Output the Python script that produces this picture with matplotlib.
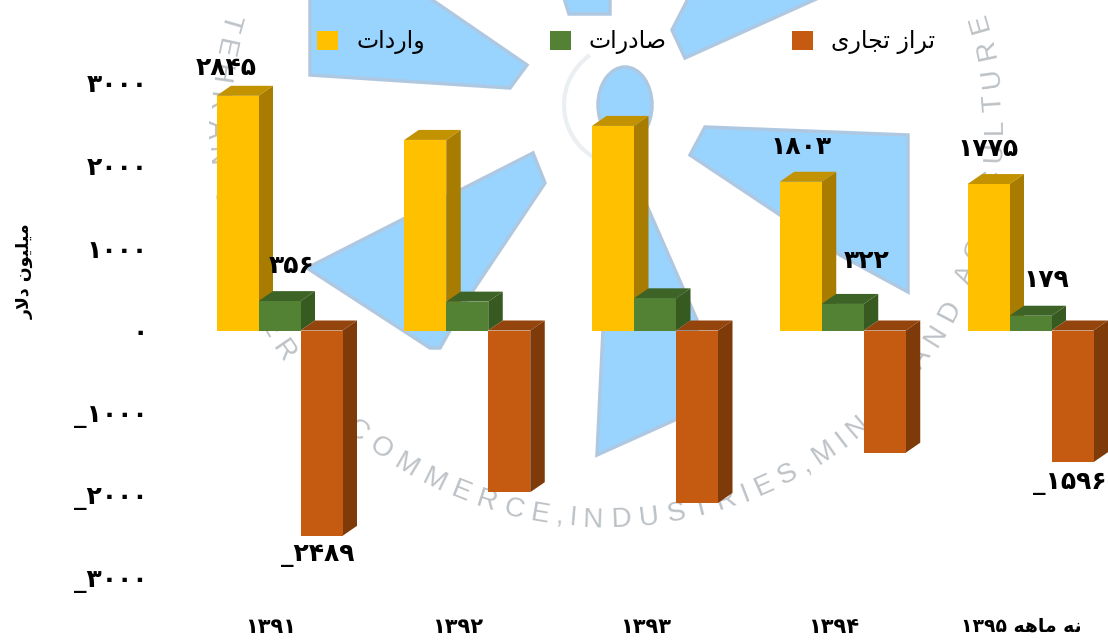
import numpy as np
import matplotlib
matplotlib.use("Agg")
import matplotlib.pyplot as plt
from matplotlib.patches import Polygon, Ellipse, Arc

W, H = 1108, 640

# persian strings are written in visual order with presentation forms,
# matplotlib does no shaping or bidi of its own
years = ["۱۳۹۱", "۱۳۹۲", "۱۳۹۳", "۱۳۹۴", "۱۳۹۵ \ufeea\ufeeb\ufe8e\ufee3 \ufeea\ufee7"]
imports_name = "\u062a\u0627\u062f\u0631\u0627\u0648"
exports_name = "\u062a\u0627\u0631\u062f\ufe8e\ufebb"
balance_name = "\ufbfc\u0631\ufe8e\ufea0\ufe97 \u0632\u0627\ufeae\ufe97"
ylabel_text = "\u0631\ufefb\u062f \u0646\ufeee\ufbff\ufee0\ufbff\ufee3"

imports = [2845, 2310, 2480, 1803, 1775]
exports = [356, 350, 390, 322, 179]
balance = [-2489, -1960, -2090, -1481, -1596]
y_ticks = [3000, 2000, 1000, 0, -1000, -2000, -3000]

# category index -> label offset from the bar end in pixels
imports_labels = {0: (-11, 28), 3: (0, 35), 4: (0, 35)}
exports_labels = {0: (12, 35), 3: (24, 43), 4: (16, 36)}
balance_labels = {0: (-4, -19), 4: (-3, -21)}

watermark_text = "TEHRAN CHAMBER OF COMMERCE,INDUSTRIES,MINES AND AGRICULTURE"
letter_widths = {
    "A": .67, "B": .67, "C": .72, "D": .72, "E": .67, "F": .61, "G": .78, "H": .72,
    "I": .28, "L": .56, "M": .83, "N": .72, "O": .78, "R": .72, "S": .67, "T": .61,
    "U": .72, ",": .28, " ": .28,
}

COLORS = {
    "imports": ("#FFC000", "#A87C00", "#C29200"),
    "exports": ("#548235", "#375A20", "#3D6326"),
    "balance": ("#C55A11", "#7F3A0A", "#94440D"),
}


def fa_number(value):
    digits = str(abs(value)).translate(str.maketrans("0123456789", "۰۱۲۳۴۵۶۷۸۹"))
    return ("_" if value < 0 else "") + digits


def draw_watermark(ax):
    blue = "#99D4FF"
    edge = "#AFC8E2"
    shapes = [
        [(310, -5), (310, 75), (510, 88), (527, 65), (425, -5)],
        [(563, -5), (569, 14), (610, 14), (610, -5)],
        [(307, 268), (533, 153), (545, 183), (470, 295), (440, 348), (430, 348)],
        [(640, 190), (697, 320), (697, 410), (597, 455), (603, 330)],
        [(672, 30), (685, 58), (825, -5), (690, -5)],
        [(690, 155), (705, 127), (908, 135), (908, 292), (840, 255)],
    ]
    for pts in shapes:
        ax.add_patch(Polygon(pts, closed=True, facecolor=blue, edgecolor=edge, linewidth=2.5))
    ax.add_patch(Ellipse((625, 105), 54, 76, facecolor=blue, edgecolor=edge, linewidth=2.5))
    ax.add_patch(Arc((625, 105), 122, 122, theta1=100, theta2=235, color="#ECEFF2", linewidth=3))

    # ring of letters, advance follows the letter widths
    cx, cy, radius = 605, 130, 390
    adv = np.array([letter_widths[c] + 0.1 for c in watermark_text])
    pos = np.cumsum(adv) - adv / 2
    angles = -16 + 212 * (pos - pos[0]) / (pos[-1] - pos[0])
    for letter, theta in zip(watermark_text, angles):
        t = np.radians(theta)
        ax.text(
            cx - radius * np.cos(t),
            cy + radius * np.sin(t),
            letter,
            rotation=theta - 90,
            rotation_mode="anchor",
            ha="center",
            va="center",
            fontsize=20,
            family="Liberation Sans",
            color="#BDC2C7",
        )


def draw_bars(ax, x, values, width, colors, dx, dy):
    front, side, top = colors
    bars = ax.bar(x, values, width, color=front, linewidth=0, zorder=3)
    for xi, v in zip(x, values):
        left, right = xi - width / 2, xi + width / 2
        # side face runs from the zero line to the bar end, shifted back by the depth
        ax.add_patch(Polygon(
            [(right, 0), (right + dx, dy), (right + dx, v + dy), (right, v)],
            closed=True, facecolor=side, linewidth=0, zorder=2,
        ))
        level = max(v, 0)
        ax.add_patch(Polygon(
            [(left, level), (left + dx, level + dy), (right + dx, level + dy), (right, level)],
            closed=True, facecolor=top, linewidth=0, zorder=2,
        ))
    return bars


def add_labels(ax, x, values, labels):
    for i, (ox, oy) in labels.items():
        ax.annotate(
            fa_number(values[i]),
            xy=(x[i], values[i]),
            xytext=(ox * 0.72, oy * 0.72),
            textcoords="offset points",
            ha="center",
            va="center",
            fontsize=18,
            fontweight="bold",
            color="black",
            zorder=6,
        )


fig = plt.figure(figsize=(W / 100, H / 100), dpi=100, facecolor="white")

bg = fig.add_axes([0, 0, 1, 1], zorder=0)
bg.set_xlim(0, W)
bg.set_ylim(H, 0)
bg.axis("off")
draw_watermark(bg)

# axes box is set from the tick positions on the picture
ax_left, ax_right, ax_top, ax_bottom = 188, 1108, 83, 578
ax = fig.add_axes(
    [ax_left / W, 1 - ax_bottom / H, (ax_right - ax_left) / W, (ax_bottom - ax_top) / H],
    zorder=1,
)
ax.patch.set_alpha(0)

group_px = 187.75
first_px = 279.5
ax.set_xlim((ax_left - first_px) / group_px, (ax_right - first_px) / group_px)
ax.set_ylim(-3000, 3000)

px_per_unit = (ax_bottom - ax_top) / 6000
bar_w = 42 / group_px
dx = 14.5 / group_px
dy = 10 / px_per_unit

x = np.arange(len(years))
b1 = draw_bars(ax, x - bar_w, imports, bar_w, COLORS["imports"], dx, dy)
b2 = draw_bars(ax, x, exports, bar_w, COLORS["exports"], dx, dy)
b3 = draw_bars(ax, x + bar_w, balance, bar_w, COLORS["balance"], dx, dy)

add_labels(ax, x - bar_w, imports, imports_labels)
add_labels(ax, x, exports, exports_labels)
add_labels(ax, x + bar_w, balance, balance_labels)

for s in ax.spines.values():
    s.set_visible(False)

ax.set_yticks(y_ticks)
ax.set_yticklabels([fa_number(v) for v in y_ticks], fontsize=18, fontweight="bold")
ax.tick_params(axis="y", length=0, pad=29)

ax.set_xticks(x - 0.05)
ax.set_xticklabels(years, fontsize=15, fontweight="bold")
ax.get_xticklabels()[-1].set_fontsize(13.5)
ax.tick_params(axis="x", length=0, pad=28)

ax.set_ylabel(ylabel_text, fontsize=12.5, fontweight="bold")
ax.yaxis.set_label_coords((34 - ax_left) / (ax_right - ax_left), (ax_bottom - 271) / (ax_bottom - ax_top))

leg = fig.legend(
    [b1, b2, b3],
    [imports_name, exports_name, balance_name],
    loc="center",
    bbox_to_anchor=(626 / W, 1 - 42 / H),
    ncols=3,
    frameon=False,
    fontsize=17,
    handlelength=0.89,
    handleheight=0.89,
    handletextpad=0.76,
    columnspacing=5.3,
    borderpad=0,
    borderaxespad=0,
)

plt.savefig("out.png", dpi=100)
plt.close(fig)
